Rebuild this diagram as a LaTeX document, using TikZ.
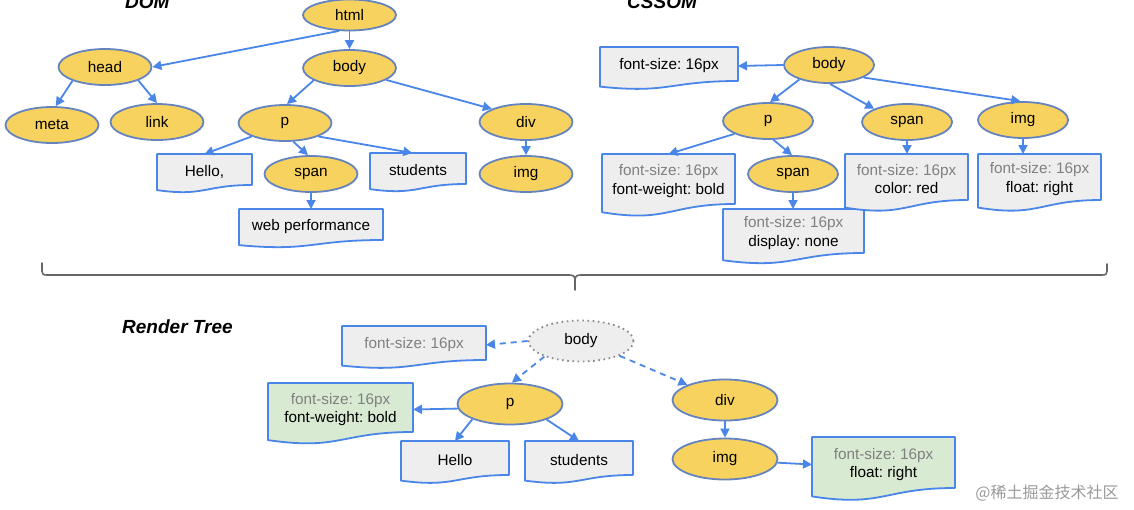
\documentclass[tikz,border=0pt]{standalone}
\usepackage{fontspec}
\setmainfont{Liberation Sans}
\newfontfamily\cjkwm{Noto Sans CJK SC}
\usetikzlibrary{arrows.meta,shapes.geometric,calc}
\definecolor{ellfill}{HTML}{F8D25E}
\definecolor{ellborder}{HTML}{6584BF}
\definecolor{boxfill}{HTML}{EEEEEE}
\definecolor{boxborder}{HTML}{4A86E8}
\definecolor{arrowc}{HTML}{4A86E8}
\definecolor{greenfill}{HTML}{D9EAD3}
\definecolor{txtgray}{HTML}{808080}
\definecolor{bracec}{HTML}{666666}
\definecolor{wmgray}{HTML}{9A9A9A}
\definecolor{dotc}{HTML}{8A8A8A}
\frenchspacing
\newcommand\graytxt[1]{{\color{txtgray}#1}}
% name, x-left, y-top, width, text-height, fill, text
\newcommand\docnode[7]{%
  \path[docbox, fill=#6] (#2,#3) -- ({#2+#4},#3) -- ({#2+#4},{#3+#5})
    .. controls ({#2+0.5*#4},{#3+#5}) and ({#2+0.5*#4},{#3+1.381*#5}) .. (#2,{#3+1.165*#5}) -- cycle;
  \node[doctext, minimum width=#4pt, minimum height={(#5+4)*1pt}, anchor=north west] (#1) at (#2,#3) {#7};}
\begin{document}
\begin{tikzpicture}[x=1pt,y=-1pt,
  ell/.style={ellipse, draw=ellborder, fill=ellfill, line width=1.8pt, minimum width=93pt, minimum height=36pt, inner sep=0pt, font=\fontsize{15.3}{18}\selectfont},
  cell/.style={ell, minimum width=90pt},
  rell/.style={ell, minimum width=105pt, minimum height=41pt},
  docbox/.style={draw=boxborder, line width=1.8pt, line join=round},
  doctext/.style={inner sep=0pt, outer sep=0pt, align=center, font=\fontsize{15.3}{18.5}\selectfont},
  arr/.style={draw=arrowc, line width=1.8pt, -{Triangle[length=9pt,width=9pt]}},
  darr/.style={arr, dash pattern=on 6pt off 5pt},
  title/.style={font=\fontsize{19}{22}\selectfont\bfseries\itshape, anchor=base west, inner sep=0pt},
  bracepath/.style={draw=bracec, line width=1.6pt, line cap=round, line join=round}]
\useasboundingbox (0,0) rectangle (1134,509);
\fill[white] (0,0) rectangle (1134,509);

% ---------- titles
\node[title] (domt) at (125,8) {DOM};
\node[title] (cssomt) at (627,8) {CSSOM};
\node[title] (rtt) at (122,333) {Render Tree};

% ---------- DOM
\node[ell, minimum height=31pt] (html) at (349.5,15) {html};
\node[ell] (head) at (105,67) {head};
\node[ell] (body) at (349.5,68) {body};
\node[ell] (meta) at (52,125) {meta};
\node[ell] (link) at (157,122) {link};
\node[ell] (p) at (285,123) {p};
\docnode{hello}{157}{154}{95}{31}{boxfill}{Hello,}
\node[ell] (span) at (311,174) {span};
\docnode{students}{370}{153}{96}{31}{boxfill}{students}
\docnode{webperf}{239}{209}{144}{31}{boxfill}{web performance}
\node[ell] (div) at (526,122) {div};
\node[ell] (img) at (526,174) {img};

\draw[arr] (html.236) -- (head.east);
\draw[arr] (html.south) -- (body.north);
\draw[arr] (body.199) -- (p.84);
\draw[arr] (head.203) -- (meta.79);
\draw[arr] (head.338) -- (link.north);
\draw[arr] (body.342) -- (div.159);
\draw[arr] (p.202) -- (hello.north);
\draw[arr] (p.294) -- (span.99);
\draw[arr] (p.338) -- (students.108);
\draw[arr] (span.south) -- (webperf.north);
\draw[arr] (div.south) -- (img.north);

% ---------- CSSOM
\node[cell] (cbody) at (829,65) {body};
\docnode{cfs}{600}{47}{138}{34}{boxfill}{font-size: 16px}
\node[cell] (cp) at (768,121) {p};
\node[cell] (cspan) at (907,122) {span};
\node[cell] (cimg) at (1023,120) {img};
\docnode{cpbox}{602}{154}{133}{50}{boxfill}{\graytxt{font-size: 16px}\\font-weight: bold}
\node[cell] (cspan2) at (793,174) {span};
\docnode{cdisp}{723}{209}{141}{44}{boxfill}{\graytxt{font-size: 16px}\\display: none}
\docnode{ccolor}{845}{154}{123}{46}{boxfill}{\graytxt{font-size: 16px}\\color: red}
\docnode{cfloat}{978}{154}{123}{46}{boxfill}{\graytxt{font-size: 16px}\\float: right}

\draw[arr] (cbody.west) -- (cfs.east);
\draw[arr] (cbody.206) -- (cp.84);
\draw[arr] (cbody.273) -- (cspan.158);
\draw[arr] (cbody.340) -- (cimg.98);
\draw[arr] (cp.201) -- (cpbox.north);
\draw[arr] (cp.286) -- (cspan2.93);
\draw[arr] (cspan.south) -- (cspan.south |- ccolor.north);
\draw[arr] (cimg.south) -- (cimg.south |- cfloat.north);
\draw[arr] (cspan2.south) -- (cspan2.south |- cdisp.north);

% ---------- brace
\draw[bracepath] (42,263) -- (42,271) .. controls (42,274) and (43,275) .. (47,275) -- (569,275)
  .. controls (573,275) and (575,276) .. (575,280) -- (575,290);
\draw[bracepath] (575,280) .. controls (575,276) and (577,275) .. (581,275) -- (1102,275)
  .. controls (1106,275) and (1107,274) .. (1107,271) -- (1107,264);

% ---------- Render tree
\node[rell, draw=dotc, fill=boxfill, dash pattern=on 1.6pt off 3.6pt] (rbody) at (581,341) {body};
\docnode{rfs}{342}{326}{144}{34}{boxfill}{\graytxt{font-size: 16px}}
\node[rell] (rp) at (510,404) {p};
\docnode{rgreen}{268}{383}{145}{49}{greenfill}{\graytxt{font-size: 16px}\\font-weight: bold}
\docnode{rhello}{401}{441}{108}{34}{boxfill}{Hello}
\docnode{rstudents}{525}{441}{108}{34}{boxfill}{students}
\node[rell] (rdiv) at (725,400) {div};
\node[rell] (rimg) at (725,459) {img};
\docnode{rfloat}{812}{437}{143}{51}{greenfill}{\graytxt{font-size: 16px}\\float: right}

\draw[darr] (rbody.west) -- (rfs.east);
\draw[darr] (rbody.203) -- (rp.85);
\draw[darr] (rbody.339) -- (rdiv.158);
\draw[arr] (rp.185) -- (rgreen.east);
\draw[arr] (rp.202) -- (rhello.north);
\draw[arr] (rp.337) -- (rstudents.north);
\draw[arr] (rdiv.south) -- (rimg.north);
\draw[arr] (rimg.-4) -- (rfloat.west);

% ---------- watermark
\node[font=\cjkwm\fontsize{16}{16}\selectfont, text=wmgray, inner sep=0pt] (wm) at (1047,493) {@稀土掘金技术社区};
\end{tikzpicture}
\end{document}
